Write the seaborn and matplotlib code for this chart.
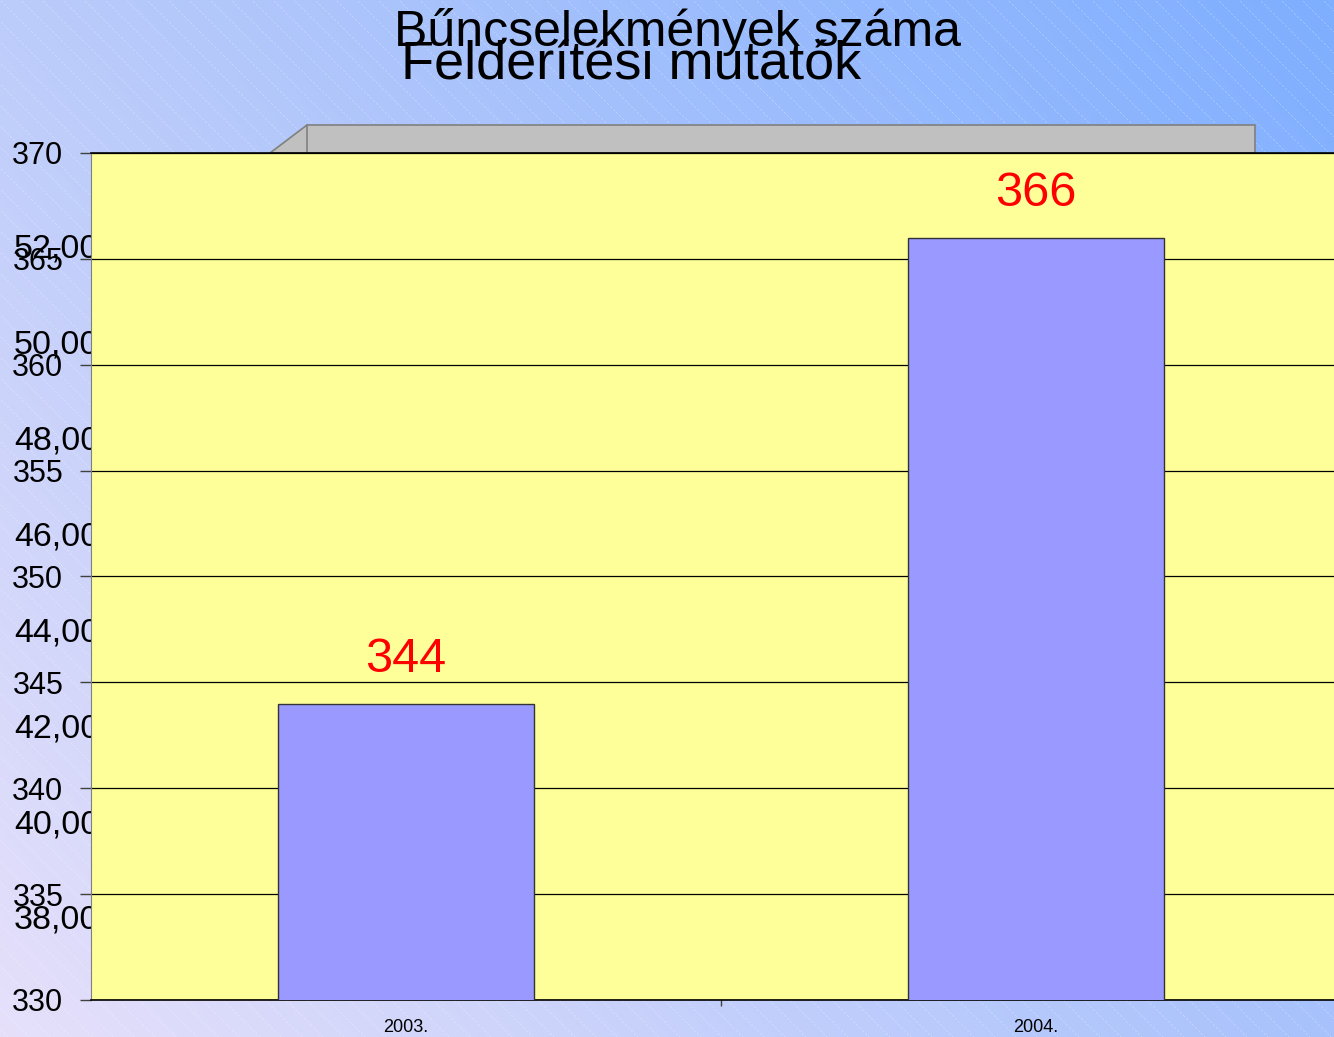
import numpy as np
import pandas as pd
import matplotlib
matplotlib.use("Agg")
import matplotlib.pyplot as plt
from matplotlib.patches import Polygon
import seaborn as sns

# =========================
# Data
# =========================
years = ["2003.", "2004."]
counts = [344, 366]

main_ticks = [330, 335, 340, 345, 350, 355, 360, 365, 370]
ghost_ticks = [38, 40, 42, 44, 46, 48, 50, 52]
ghost_labels = ["38,00", "40,00", "42,00", "44,00", "46,00", "48,00", "50,00", "52,00"]

title_1 = "Bűncselekmények száma"
title_2 = "Felderítési mutatók"

df = pd.DataFrame({"ev": years, "db": counts})

sns.set_style("white")
plt.rcParams["font.family"] = ["Liberation Sans", "DejaVu Sans"]
plt.rcParams["text.color"] = "black"
plt.rcParams["xtick.labelcolor"] = "black"
plt.rcParams["ytick.labelcolor"] = "black"

W, H = 1334, 1037
fig = plt.figure(figsize=(W / 100, H / 100), dpi=100)

# =========================
# Background gradient with faint diagonal stripes
# =========================
ax_bg = fig.add_axes([0, 0, 1, 1], zorder=-10)
yy, xx = np.mgrid[0:H, 0:W]
fx = xx / (W - 1)
fy = yy / (H - 1)
tl = np.array([188, 204, 250]) / 255
tr = np.array([126, 174, 255]) / 255
bl = np.array([230, 224, 250]) / 255
br = np.array([168, 194, 252]) / 255
img = ((1 - fx)[..., None] * (1 - fy)[..., None] * tl
       + fx[..., None] * (1 - fy)[..., None] * tr
       + (1 - fx)[..., None] * fy[..., None] * bl
       + fx[..., None] * fy[..., None] * br)
stripe = ((xx - yy) % 21 == 0) & ((xx + yy) % 3 != 0)
img[stripe] = img[stripe] * 0.75 + 0.25
ax_bg.imshow(img, aspect="auto", interpolation="nearest")
ax_bg.axis("off")

# Grey 3D box peeking out above the plot
box = Polygon([(270 / W, 1 - 153 / H), (307 / W, 1 - 125 / H),
               (1255 / W, 1 - 125 / H), (1255 / W, 1 - 153 / H)],
              closed=True, transform=fig.transFigure,
              facecolor="#c0c0c0", edgecolor="#808080", linewidth=1.2, zorder=-5)
fig.add_artist(box)
fig.add_artist(plt.Line2D([307 / W, 307 / W], [1 - 125 / H, 1 - 153 / H],
                          transform=fig.transFigure, color="#808080",
                          linewidth=1.2, zorder=-4))

pos = [91 / W, 37 / H, 1260 / W, 847 / H]

# =========================
# Ghost axis (second chart behind)
# =========================
ax2 = fig.add_axes(pos, zorder=-1)
ax2.set_facecolor("none")
for s in ax2.spines.values():
    s.set_visible(False)
ax2.set_xticks([])
ax2.set_ylim(36.27, 53.92)
ax2.set_yticks(ghost_ticks)
ax2.set_yticklabels(ghost_labels, fontsize=24.5, ha="left")
ax2.tick_params(axis="y", length=0, pad=55.4)

# =========================
# Main bar chart
# =========================
ax = fig.add_axes(pos, zorder=1)
ax.set_facecolor("#ffff99")
sns.barplot(data=df, x="ev", y="db", ax=ax, color="#9999ff", saturation=1,
            edgecolor="#333333", linewidth=1, width=0.405, zorder=3)

ax.set_ylim(330, 370)
ax.set_xlim(-0.5, 1.5)
ax.set_yticks(main_ticks)
ax.yaxis.grid(True, color="black", linewidth=0.9)
ax.set_axisbelow(True)
ax.set_xlabel("")
ax.set_ylabel("")

ax.tick_params(axis="y", direction="out", length=8, width=1, color="#404040",
               pad=12, labelsize=22, left=True)
ax.tick_params(axis="x", which="major", length=0, pad=14, labelsize=13)
ax.set_xticks([0.5], minor=True)
ax.tick_params(axis="x", which="minor", direction="out", length=4, width=1,
               color="#404040", bottom=True)

for side in ["top", "bottom"]:
    ax.spines[side].set_color("black")
    ax.spines[side].set_linewidth(1.2)
ax.spines["left"].set_color("#808080")
ax.spines["right"].set_visible(False)

for i, v in enumerate(counts):
    ax.annotate(str(v), (i, v), xytext=(0, 32), textcoords="offset points",
                ha="center", va="center", color="#ff0000", fontsize=35)

# =========================
# Titles
# =========================
fig.text(678 / W, 1 - 46 / H, title_1, ha="center", va="baseline", fontsize=36)
fig.text(631 / W, 1 - 79 / H, title_2, ha="center", va="baseline", fontsize=39)

fig.savefig("out.png", dpi=100)
